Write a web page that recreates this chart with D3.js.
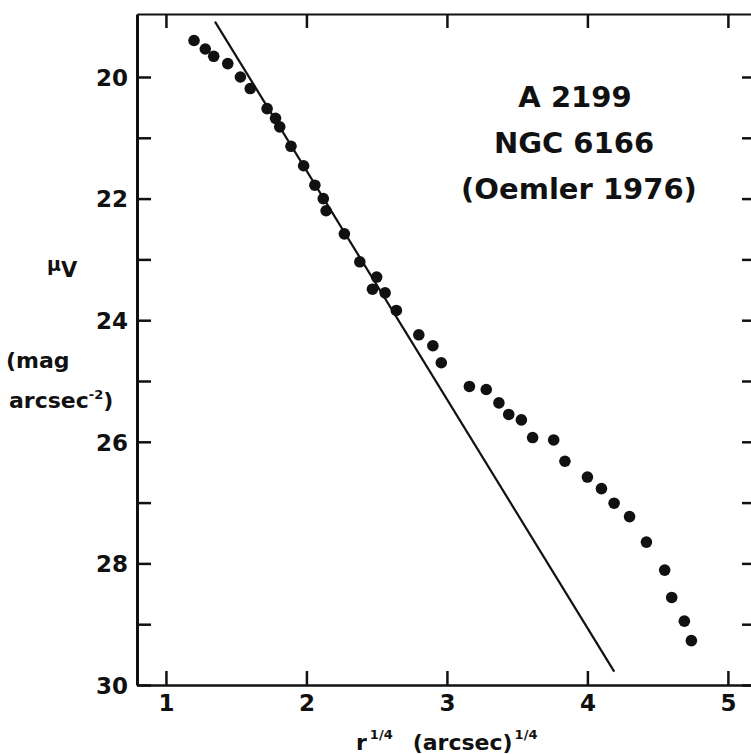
<!DOCTYPE html>
<html>
<head>
<meta charset="utf-8">
<script src="https://cdn.jsdelivr.net/npm/d3@7"></script>
<style>
  body { margin: 0; background: #fff; }
  svg text { font-family: "DejaVu Sans", sans-serif; font-weight: bold; fill: #111; }
  .axis path, .axis line { stroke: #111; }
</style>
</head>
<body>
<svg id="chart" width="751" height="754"></svg>
<script>
// r^1/4 (arcsec)^1/4  vs  mu_V (mag arcsec^-2), A 2199 / NGC 6166
var rQuarter = [1.20, 1.28, 1.34, 1.44, 1.53, 1.60, 1.72, 1.78, 1.81, 1.89,
                1.98, 2.06, 2.12, 2.14, 2.27, 2.38, 2.50, 2.47, 2.56, 2.64,
                2.80, 2.90, 2.96, 3.16, 3.28, 3.37, 3.44, 3.53, 3.61, 3.76,
                3.84, 4.00, 4.10, 4.19, 4.30, 4.42, 4.55, 4.60, 4.69, 4.74];
var muV = [19.40, 19.54, 19.66, 19.78, 20.00, 20.19, 20.52, 20.68, 20.82, 21.14,
           21.46, 21.78, 22.00, 22.20, 22.58, 23.04, 23.29, 23.49, 23.55, 23.84,
           24.24, 24.42, 24.70, 25.09, 25.14, 25.36, 25.55, 25.64, 25.93, 25.97,
           26.32, 26.58, 26.77, 27.01, 27.23, 27.65, 28.11, 28.56, 28.95, 29.27];

// straight r^1/4 law fit, two end points
var fitX = [1.349, 4.191];
var fitY = [19.09, 29.78];

var xTicks = [1, 2, 3, 4, 5];
var yTicks = [20, 21, 22, 23, 24, 25, 26, 27, 28, 29, 30];
var yLabels = [20, 22, 24, 26, 28, 30];
var titleLines = ["A 2199", "NGC 6166", "(Oemler 1976)"];

var margin = { top: 14, left: 137 };
var width = 619, height = 671;

var svg = d3.select("#chart");
var g = svg.append("g")
  .attr("transform", "translate(" + margin.left + "," + margin.top + ")");

var x = d3.scaleLinear().domain([0.794, 5.2]).range([0, width]);
var y = d3.scaleLinear().domain([18.964, 30]).range([0, height]);

// axes, ticks pointing inward
var leftAx = g.append("g").attr("class", "axis")
  .call(d3.axisLeft(y).tickValues(yTicks).tickSize(-14).tickSizeOuter(0).tickPadding(9)
    .tickFormat(function(d) { return yLabels.indexOf(d) >= 0 ? d : ""; }));
leftAx.select(".domain").attr("stroke-width", 3);
leftAx.selectAll(".tick line").attr("stroke-width", 2.5);
leftAx.selectAll("text").style("font-size", "23px").attr("dy", "0.36em");

var bottomAx = g.append("g").attr("class", "axis")
  .attr("transform", "translate(0," + height + ")")
  .call(d3.axisBottom(x).tickValues(xTicks).tickSize(-14).tickSizeOuter(0).tickPadding(10)
    .tickFormat(d3.format("d")));
bottomAx.select(".domain").attr("stroke-width", 2.5);
bottomAx.selectAll(".tick line").attr("stroke-width", 2.5);
bottomAx.selectAll("text").style("font-size", "23px");

var topAx = g.append("g").attr("class", "axis")
  .call(d3.axisTop(x).tickValues(xTicks).tickSize(-14).tickSizeOuter(0).tickFormat(""));
topAx.select(".domain").attr("stroke-width", 2).attr("stroke", "#333");
topAx.selectAll(".tick line").attr("stroke-width", 2.5);

var rightAx = g.append("g").attr("class", "axis")
  .attr("transform", "translate(" + width + ",0)")
  .call(d3.axisRight(y).tickValues(yTicks).tickSize(-14).tickSizeOuter(0).tickFormat(""));
rightAx.select(".domain").attr("stroke-width", 3);
rightAx.selectAll(".tick line").attr("stroke-width", 2.5);

// fit line
var line = d3.line()
  .x(function(d) { return x(d[0]); })
  .y(function(d) { return y(d[1]); });
g.append("path")
  .datum(d3.zip(fitX, fitY))
  .attr("d", line)
  .attr("fill", "none")
  .attr("stroke", "#111")
  .attr("stroke-width", 2.2);

// data points
g.selectAll("circle.pt")
  .data(d3.zip(rQuarter, muV))
  .enter().append("circle")
  .attr("class", "pt")
  .attr("cx", function(d) { return x(d[0]); })
  .attr("cy", function(d) { return y(d[1]); })
  .attr("r", 5.8)
  .attr("fill", "#111");

// annotation
var titleX = [575, 574, 579];
var titleY = [107, 153, 199];
svg.selectAll("text.title")
  .data(titleLines)
  .enter().append("text")
  .attr("class", "title")
  .attr("x", function(d, i) { return titleX[i]; })
  .attr("y", function(d, i) { return titleY[i]; })
  .attr("text-anchor", "middle")
  .style("font-size", "29px")
  .text(function(d) { return d; });

// y label
var yl = svg.append("text").attr("x", 47).attr("y", 271).style("font-size", "19px");
yl.append("tspan").text("μ");
yl.append("tspan").attr("dy", 6).style("font-size", "21px").text("V");

svg.append("text").attr("x", 6).attr("y", 368).style("font-size", "22px").text("(mag");
var yl2 = svg.append("text").attr("x", 9).attr("y", 408).style("font-size", "22px");
yl2.append("tspan").text("arcsec");
yl2.append("tspan").attr("dy", -9).style("font-size", "13px").text("-2");
yl2.append("tspan").attr("dy", 9).text(")");

// x label
var xl = svg.append("text").attr("x", 356).attr("y", 750).style("font-size", "22px");
xl.append("tspan").text("r");
xl.append("tspan").attr("dy", -11).attr("dx", 3).style("font-size", "13px").text("1/4");
xl.append("tspan").attr("dy", 11).attr("dx", 20).text("(arcsec)");
xl.append("tspan").attr("dy", -11).attr("dx", 2).style("font-size", "13px").text("1/4");
</script>
</body>
</html>
